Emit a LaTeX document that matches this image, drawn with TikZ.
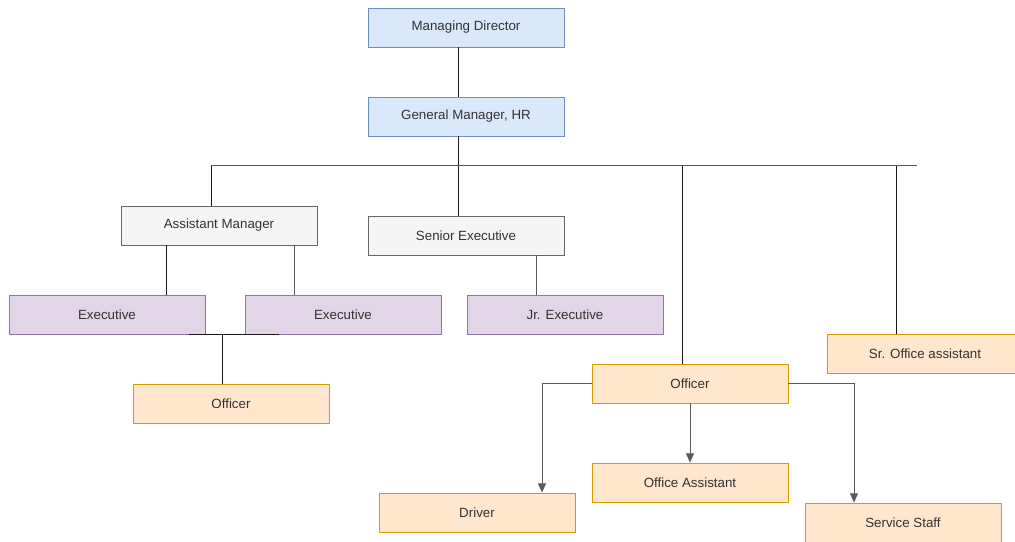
\documentclass[tikz,border=0pt]{standalone}
\usepackage{fontspec}
\setmainfont{Liberation Sans}
\usepackage{tikz}
\usetikzlibrary{positioning}
\usetikzlibrary{arrows.meta}

\definecolor{bluefill}{HTML}{DAE8FC}
\definecolor{blueline}{HTML}{6C8EBF}
\definecolor{grayfill}{HTML}{F5F5F5}
\definecolor{grayline}{HTML}{666666}
\definecolor{purplefill}{HTML}{E1D5E7}
\definecolor{purpleline}{HTML}{9673A6}
\definecolor{orangefill}{HTML}{FFE6CC}
\definecolor{orangeline}{HTML}{D79B00}

\begin{document}
\begin{tikzpicture}[x=0.75pt, y=-0.75pt,
    post/.style={draw, line width=0.6pt, minimum width=147pt, minimum height=29.25pt,
        inner sep=0pt, font=\fontsize{10}{12}\selectfont, text=black!80},
    head/.style={post, fill=bluefill, draw=blueline},
    mid/.style={post, fill=grayfill, draw=grayline},
    exec/.style={post, fill=purplefill, draw=purpleline},
    staff/.style={post, fill=orangefill, draw=orangeline},
    link/.style={line width=0.75pt, black!90},
    glink/.style={line width=0.75pt, black!65},
    arr/.style={glink, -{Triangle[length=7pt, width=6pt]}}]
    \useasboundingbox (0,0) rectangle (1015,542);

    \node[head] (md) at (466,27.5) {Managing Director};
    \node[head] (gm) at (466,116.5) {General Manager, HR};
    \node[mid] (am) at (219,225.5) {Assistant Manager};
    \node[mid] (se) at (466,235.5) {Senior Executive};
    \node[exec] (exa) at (107,314.5) {Executive};
    \node[exec] (exb) at (343,314.5) {Executive};
    \node[exec] (jr) at (565,314.5) {Jr. Executive};
    \node[staff] (offl) at (231,403.5) {Officer};
    \node[staff] (offr) at (690,383.5) {Officer};
    \node[staff] (sroa) at (925,353.5) {Sr. Office assistant};
    \node[staff] (driver) at (477,512.5) {Driver};
    \node[staff] (offa) at (690,482.5) {Office Assistant};
    \node[staff] (sstaff) at (903,522.5) {Service Staff};

    % top of the tree
    \draw[link] ([xshift=-6pt]md.south) -- ([xshift=-6pt]gm.north);
    \draw[link] ([xshift=-6pt]gm.south) -- ([xshift=-6pt]se.north);
    \coordinate (ta) at (211,166);
    \coordinate (tb) at (682,166);
    \coordinate (tc) at (896,166);
    \coordinate (tend) at (917,166);
    \draw[glink] (ta) -- (tend);
    \draw[link] (ta) -- (ta |- am.north);
    \draw[link] (tb) -- (tb |- offr.north);
    \draw[link] (tc) -- (tc |- sroa.north);

    % below the managers
    \draw[link] ([xshift=-39.75pt]am.south) -- ++(0,50);
    \draw[glink] ([xshift=56.25pt]am.south) -- ++(0,50);
    \draw[glink] ([xshift=52.5pt]se.south) -- ++(0,40);
    \coordinate (ebl) at (189,334);
    \coordinate (ebr) at (279,334);
    \coordinate (eb) at (222,334);
    \draw[link] (ebl) -- (ebr);
    \draw[link] (eb) -- (eb |- offl.north);

    % officer and his staff
    \draw[arr] (offr.west) -| ([xshift=48.75pt]driver.north);
    \draw[arr] (offr) -- (offa);
    \draw[arr] (offr.east) -| ([xshift=-36.75pt]sstaff.north);
\end{tikzpicture}
\end{document}
